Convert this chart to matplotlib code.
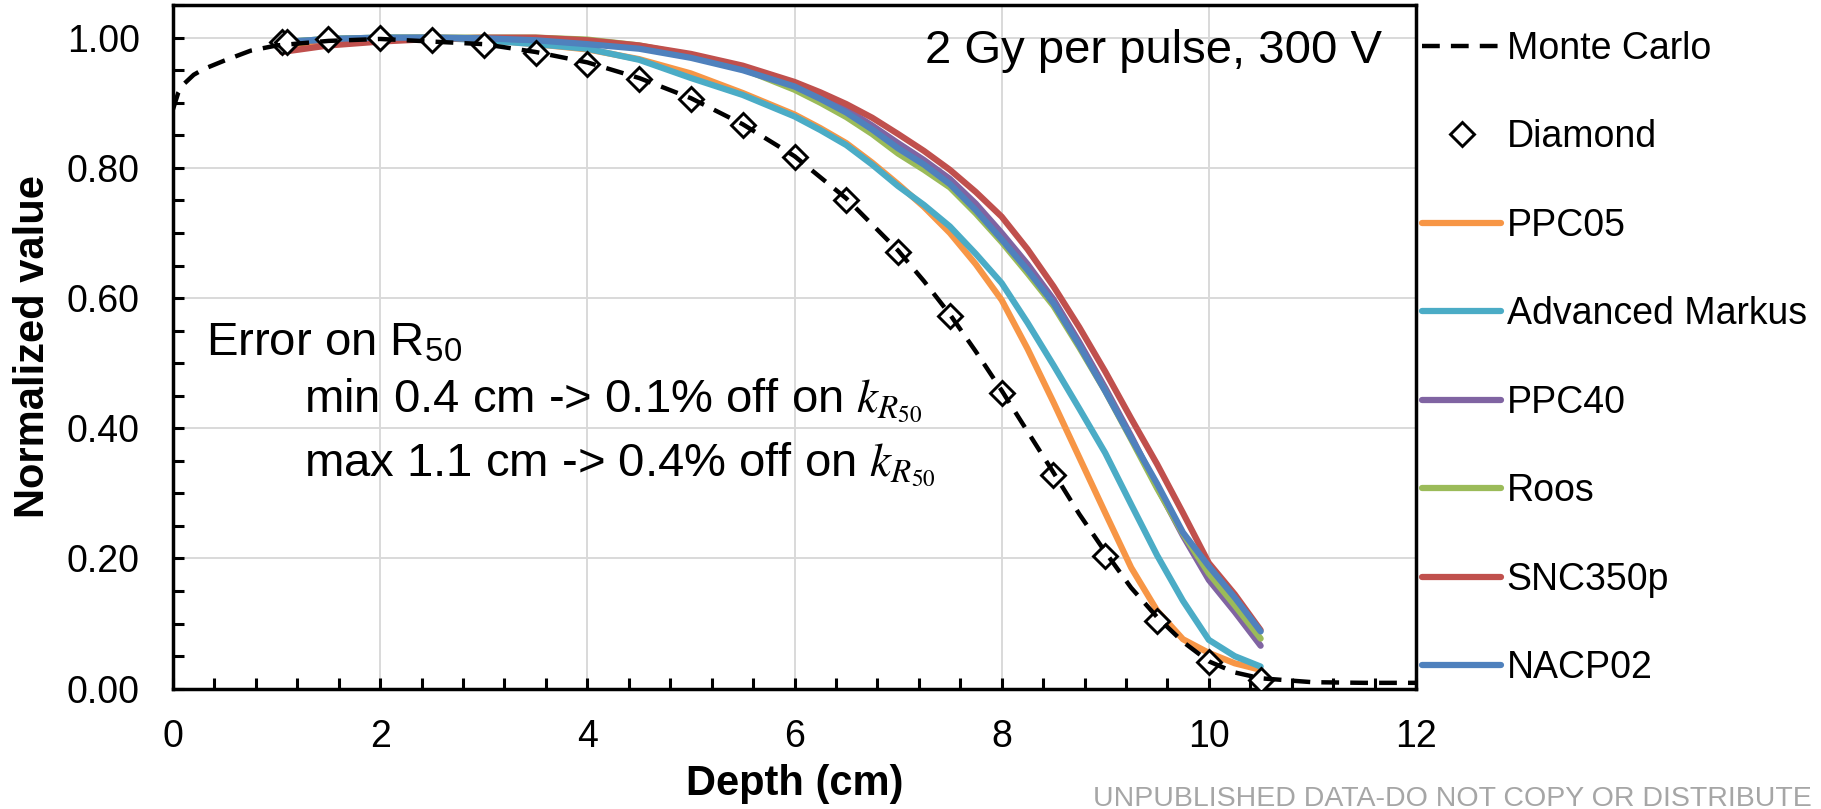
import numpy as np
import matplotlib
matplotlib.use('Agg')
import matplotlib.pyplot as plt
from matplotlib.ticker import MultipleLocator

plt.rcParams['font.family'] = ['Liberation Sans', 'DejaVu Sans']
plt.rcParams['mathtext.fontset'] = 'stix'

# Monte Carlo depth-dose curve
mc_depth = [0, 0.05, 0.1, 0.2, 0.3, 0.5, 0.75, 1.0, 1.5, 2, 2.5, 3, 3.5, 4, 4.5, 5, 5.5,
            6, 6.5, 7, 7.25, 7.5, 7.75, 8, 8.25, 8.5, 8.75, 9, 9.25, 9.5, 9.75, 10, 10.25,
            10.5, 11, 11.5, 12]
mc_value = [0.89, 0.915, 0.928, 0.943, 0.952, 0.965, 0.98, 0.988, 0.995, 0.998, 0.994, 0.99,
            0.978, 0.962, 0.938, 0.907, 0.867, 0.818, 0.753, 0.673, 0.626, 0.575, 0.518,
            0.458, 0.395, 0.332, 0.268, 0.21, 0.155, 0.11, 0.072, 0.042, 0.025,
            0.016, 0.01, 0.009, 0.009]

# Diamond detector
dia_depth = [1.05, 1.1, 1.5, 2, 2.5, 3, 3.5, 4, 4.5, 5, 5.5, 6, 6.5, 7, 7.5, 8, 8.5, 9, 9.5, 10, 10.5]
dia_value = [0.993, 0.993, 0.998, 1.0, 0.996, 0.989, 0.977, 0.96, 0.936, 0.905, 0.866, 0.816,
             0.75, 0.671, 0.573, 0.454, 0.329, 0.204, 0.104, 0.041, 0.014]

# ionisation chambers
ch_depth = [1.05, 1.5, 2, 2.5, 3, 3.5, 4, 4.5, 5, 5.5, 6, 6.25, 6.5, 6.75, 7, 7.25, 7.5,
            7.75, 8, 8.25, 8.5, 8.75, 9, 9.25, 9.5, 9.75, 10, 10.25, 10.5]
ppc05 = [0.985, 0.995, 0.998, 1.0, 0.997, 0.99, 0.982, 0.967, 0.945, 0.915, 0.882, 0.861,
         0.838, 0.808, 0.775, 0.74, 0.70, 0.652, 0.597, 0.522, 0.44, 0.355, 0.27, 0.186,
         0.12, 0.076, 0.055, 0.039, 0.029]
adv_markus = [0.993, 0.998, 1.0, 1.0, 0.996, 0.99, 0.983, 0.966, 0.938, 0.912, 0.879, 0.858,
              0.835, 0.805, 0.772, 0.743, 0.71, 0.668, 0.623, 0.562, 0.497, 0.43, 0.362,
              0.283, 0.205, 0.135, 0.075, 0.05, 0.034]
ppc40 = [0.992, 0.997, 0.999, 1.0, 0.999, 0.997, 0.992, 0.985, 0.972, 0.953, 0.928, 0.91,
         0.89, 0.865, 0.838, 0.812, 0.783, 0.745, 0.70, 0.652, 0.598, 0.532, 0.462, 0.388,
         0.31, 0.235, 0.167, 0.118, 0.066]
roos = [0.993, 0.998, 1.0, 1.0, 1.0, 1.0, 0.997, 0.988, 0.973, 0.952, 0.92, 0.90,
        0.878, 0.852, 0.822, 0.797, 0.77, 0.73, 0.686, 0.638, 0.588, 0.524, 0.457, 0.383,
        0.308, 0.238, 0.177, 0.128, 0.077]
snc350p = [0.978, 0.988, 0.994, 0.998, 1.0, 1.0, 0.996, 0.988, 0.975, 0.957, 0.932, 0.916,
           0.898, 0.877, 0.852, 0.826, 0.797, 0.763, 0.725, 0.675, 0.618, 0.555, 0.487,
           0.415, 0.345, 0.27, 0.193, 0.145, 0.09]
nacp02 = [0.993, 0.998, 1.0, 1.0, 0.999, 0.996, 0.99, 0.983, 0.969, 0.95, 0.925, 0.906,
          0.885, 0.859, 0.83, 0.805, 0.775, 0.735, 0.69, 0.643, 0.592, 0.527, 0.457, 0.385,
          0.315, 0.24, 0.188, 0.14, 0.088]

chambers = ['PPC05', 'Advanced Markus', 'PPC40', 'Roos', 'SNC350p', 'NACP02']
chamber_vals = [ppc05, adv_markus, ppc40, roos, snc350p, nacp02]
colors = ['#F79646', '#4BACC6', '#8064A2', '#9BBB59', '#C0504D', '#4F81BD']

fig = plt.figure(figsize=(18.21, 8.09), dpi=100)
ax = fig.add_axes([0.095, 0.1487, 0.6826, 0.845])

ax.plot(mc_depth, mc_value, color='black', lw=3.2, dashes=(4, 2.5), label='Monte Carlo', zorder=5)
ax.plot(dia_depth, dia_value, linestyle='none', marker='D', ms=12, mfc='white', mec='black',
        mew=2.1, label='Diamond', zorder=4)
for name, vals, c in zip(chambers, chamber_vals, colors):
    ax.plot(ch_depth, vals, color=c, lw=4.5, label=name, zorder=3, solid_capstyle='round')

ax.set_xlim(0, 12)
ax.set_ylim(0, 1.05)
ax.xaxis.set_major_locator(MultipleLocator(2))
ax.xaxis.set_minor_locator(MultipleLocator(0.4))
ax.yaxis.set_major_locator(MultipleLocator(0.2))
ax.yaxis.set_minor_locator(MultipleLocator(0.05))
ax.yaxis.set_major_formatter(plt.FormatStrFormatter('%.2f'))
ax.tick_params(which='both', direction='in', length=8, width=2.2)
ax.tick_params(which='major', labelsize=27)
ax.tick_params(axis='y', which='major', pad=24)
ax.tick_params(axis='x', which='major', pad=22)
ax.grid(True, which='major', color='#D9D9D9', lw=1.4, zorder=0)
for sp in ax.spines.values():
    sp.set_linewidth(2.5)

ax.set_xlabel('Depth (cm)', fontsize=30, fontweight='bold', labelpad=6)
ax.set_ylabel('Normalized value', fontsize=30, fontweight='bold', labelpad=10)

ax.text(11.67, 0.979, '2 Gy per pulse, 300 V', fontsize=34, ha='right', va='center')
ax.text(0.32, 0.511, r'Error on R$_{\mathregular{50}}$', fontsize=34, ha='left', va='baseline')
ax.text(1.26, 0.424, r'min 0.4 cm -> 0.1% off on $k_{R_{50}}$', fontsize=34, ha='left',
        va='baseline')
ax.text(1.26, 0.3255, r'max 1.1 cm -> 0.4% off on $k_{R_{50}}$', fontsize=34, ha='left',
        va='baseline')

fig.legend(loc='upper left', bbox_to_anchor=(0.781, 0.962), frameon=False, fontsize=27,
           handlelength=2.1, handletextpad=0.15, labelspacing=1.4, borderpad=0,
           borderaxespad=0)

fig.text(0.6, 0.004, 'UNPUBLISHED DATA-DO NOT COPY OR DISTRIBUTE', fontsize=20.5,
         color='#A6A6A6', ha='left', va='baseline')

fig.savefig('out.png', dpi=100)
